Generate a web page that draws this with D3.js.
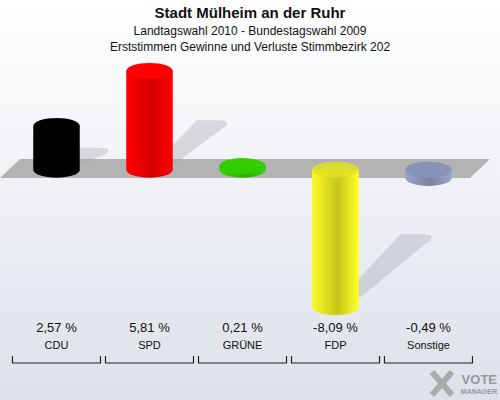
<!DOCTYPE html><html><head><meta charset="utf-8"><script src="https://cdn.jsdelivr.net/npm/d3@7"></script>
<style>body{margin:0}svg{display:block;font-family:Arial,"Liberation Sans",sans-serif}</style></head><body><script>
const categories=["CDU","SPD","GRÜNE","FDP","Sonstige"];
const values=[2.57,5.81,0.21,-8.09,-0.49];
const labels=["2,57 %","5,81 %","0,21 %","-8,09 %","-0,49 %"];
const colors=["#000000","#ff0000","#33cc00","#eeee22","#8f9cc0"];
const W=500,H=400;
const svg=d3.select("body").append("svg").attr("width",W).attr("height",H);
const defs=svg.append("defs");
const bg=defs.append("linearGradient").attr("id","bg").attr("x1",0).attr("y1",0).attr("x2",0).attr("y2",1);
bg.append("stop").attr("offset",0).attr("stop-color","#ffffff");
bg.append("stop").attr("offset",1).attr("stop-color","#dde1e9");
svg.append("rect").attr("width",W).attr("height",H).attr("fill","url(#bg)");
const x=d3.scaleBand().domain(categories).range([10,475]).paddingInner(0.5).paddingOuter(0.25);
const y=d3.scaleLinear().domain([-8.09,5.81]).range([307,71]);
const y0=y(0), ry=8;
svg.append("path").attr("d",`M0,178L20,159L490,159L470,178Z`).attr("fill","#b3b3b3");
categories.forEach((c,i)=>{
  const v=values[i],cx=x(c)+x.bandwidth()/2,w=x.bandwidth(),l=x(c);
  const top=Math.min(y(v),y0),bot=Math.max(y(v),y0);
  if(Math.abs(v)>0.6){
    const h=Math.abs(y(v)-y0), len=h*0.5, dx=len*0.95;
    const yb=v>0?y0:bot-4;
    const a=cx, b=l+w+2;
    svg.append("path").attr("d",`M${a},${yb}L${a+dx},${yb-len}L${b+dx-4},${yb-len}Q${b+dx+10},${yb-len} ${b+dx+4},${yb-len+6}L${b},${yb-6}Z`)
      .attr("fill","#a0a4ac").attr("opacity",0.35);
  }
  const g=defs.append("linearGradient").attr("id","g"+i);
  const base=d3.color(colors[i]);
  [[0,base.brighter(0.15)],[0.55,base.darker(0.5)],[1,base.brighter(0.2)]].forEach(s=>g.append("stop").attr("offset",s[0]).attr("stop-color",s[1]));
  svg.append("path").attr("d",`M${l},${top}L${l},${bot}A${w/2},${ry} 0 0 0 ${l+w},${bot}L${l+w},${top}Z`).attr("fill",i==0?"#000":`url(#g${i})`);
  svg.append("ellipse").attr("cx",cx).attr("cy",top).attr("rx",w/2).attr("ry",ry).attr("fill",v<0?d3.color(colors[i]).darker(0.15):colors[i]).attr("opacity",v<0&&i==3?0.85:1);
  svg.append("text").attr("x",cx).attr("y",332).attr("text-anchor","middle").attr("font-size",13).attr("fill","#111").text(labels[i]);
  svg.append("text").attr("x",cx).attr("y",349).attr("text-anchor","middle").attr("font-size",11).attr("fill","#111").text(c);
  const bl=cx-44,br=cx+44;
  svg.append("path").attr("d",`M${bl},356V363H${br}V356`).attr("fill","none").attr("stroke","#222").attr("stroke-width",1.2);
});
const t=svg.append("g").attr("text-anchor","middle").attr("fill","#111");
t.append("text").attr("x",250).attr("y",18).attr("font-size",15).attr("font-weight","bold").text("Stadt Mülheim an der Ruhr");
t.append("text").attr("x",250).attr("y",35).attr("font-size",12).text("Landtagswahl 2010 - Bundestagswahl 2009");
t.append("text").attr("x",250).attr("y",51).attr("font-size",12).text("Erststimmen Gewinne und Verluste Stimmbezirk 202");
const lg=svg.append("g");
lg.append("path").attr("d","M432,372L452,395M452,372L432,395").attr("stroke","#aaa").attr("stroke-width",6);
lg.append("text").attr("x",497).attr("y",384).attr("text-anchor","end").attr("font-size",13).attr("font-weight","bold").attr("fill","#999").text("VOTE");
lg.append("text").attr("x",497).attr("y",394).attr("text-anchor","end").attr("font-size",7).attr("font-weight","bold").attr("fill","#999").text("MANAGER");
</script></body></html>
